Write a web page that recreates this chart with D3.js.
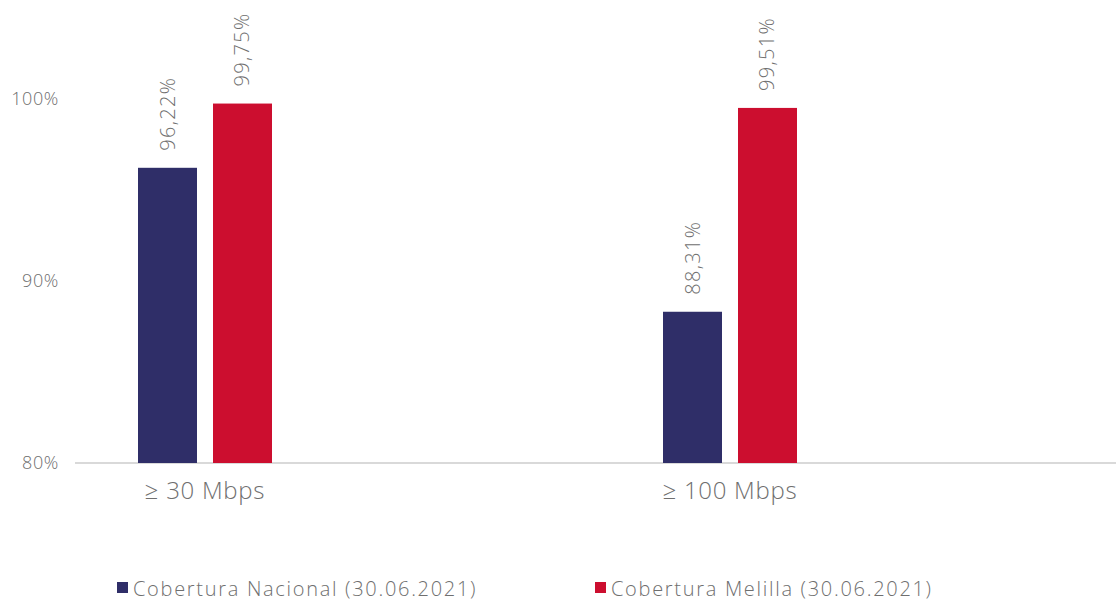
<!DOCTYPE html>
<html><head><meta charset="utf-8">
<script src="https://cdn.jsdelivr.net/npm/d3@7"></script>
<style>
body{margin:0;background:#fff;}
text{font-family:"Open Sans",sans-serif;font-weight:300;fill:#6f6f6f;}
</style></head><body>
<svg id="chart" width="1116" height="601"></svg>
<script>
const categories = ["\u2265 30 Mbps", "\u2265 100 Mbps"];
const seriesNames = ["Cobertura Nacional (30.06.2021)", "Cobertura Melilla (30.06.2021)"];
const nacional = [96.22, 88.31];
const melilla = [99.75, 99.51];
const yTicks = [80, 90, 100];
const colors = ["#2f2e68", "#cc0e2f"];

const svg = d3.select("#chart");
const y = d3.scaleLinear().domain([80, 100]).range([463, 99]);
const x = d3.scalePoint().domain(categories).range([205, 730]);
const sub = d3.scaleBand().domain(seriesNames).range([-67, 67]).paddingInner(0.2133);

// axis line
svg.append("line").attr("x1", 75).attr("x2", 1116).attr("y1", y(80)).attr("y2", y(80))
  .attr("stroke", "#d9d9d9").attr("stroke-width", 2);

// y tick labels
svg.selectAll(".ytick").data(yTicks).enter().append("text")
  .attr("x", 59).attr("y", d => y(d)).attr("dy", "0.35em")
  .attr("text-anchor", "end").style("font-size", "18px").style("letter-spacing", "0.6px")
  .text(d => d + "%");

const series = [nacional, melilla];
const fmt = v => v.toFixed(2).replace(".", ",") + "%";

series.forEach((vals, si) => {
  const g = svg.append("g");
  g.selectAll("rect").data(vals).enter().append("rect")
    .attr("x", (d, i) => x(categories[i]) + sub(seriesNames[si]))
    .attr("width", sub.bandwidth())
    .attr("y", d => y(d))
    .attr("height", d => y(80) - y(d))
    .attr("fill", colors[si]);
  g.selectAll("text").data(vals).enter().append("text")
    .attr("transform", (d, i) => {
      const cx = x(categories[i]) + sub(seriesNames[si]) + sub.bandwidth() / 2;
      return `translate(${cx + 7},${y(d) - 17}) rotate(-90)`;
    })
    .style("font-size", "20px").style("letter-spacing", "1.3px")
    .attr("text-anchor", "start")
    .text(d => fmt(d));
});

// category labels
svg.selectAll(".cat").data(categories).enter().append("text")
  .attr("x", d => x(d)).attr("y", 499)
  .attr("text-anchor", "middle").style("font-size", "24px").style("letter-spacing", "0.7px")
  .text(d => d);

// legend
const legX = [117, 595];
seriesNames.forEach((n, i) => {
  svg.append("rect").attr("x", legX[i]).attr("y", 582).attr("width", 11).attr("height", 11).attr("fill", colors[i]);
  svg.append("text").attr("x", legX[i] + 16).attr("y", 596).style("font-size", "20px").style("letter-spacing", "1.7px").text(n);
});
</script>
</body></html>
